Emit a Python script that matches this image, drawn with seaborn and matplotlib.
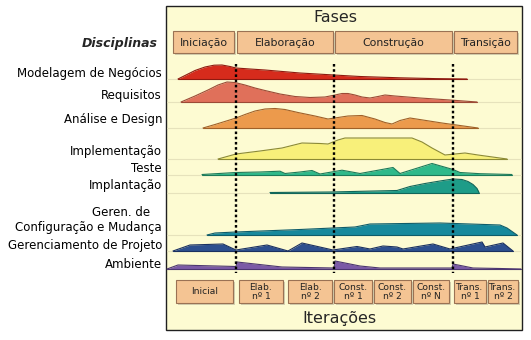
import numpy as np
import pandas as pd
import matplotlib
matplotlib.use("Agg")
import matplotlib.pyplot as plt
from matplotlib.patches import Rectangle
import seaborn as sns

# ---------------- data ----------------
disciplines = ["Modelagem de Negócios", "Requisitos", "Análise e Design",
               "Implementação", "Teste", "Implantação",
               "Configuração e Mudança", "Gerenciamento de Projeto", "Ambiente"]
config_prefix = "Geren. de"

phases = ["Iniciação", "Elaboração", "Construção", "Transição"]
iterations = ["Inicial", "Elab.\nnº 1", "Elab.\nnº 2", "Const.\nnº 1", "Const.\nnº 2",
              "Const.\nnº N", "Trans.\nnº 1", "Trans.\nnº 2"]

# timeline positions (x) and effort heights per discipline
modelagem_x = [178, 186, 195, 205, 214, 222, 230, 236, 250, 265, 300, 334, 360, 400, 435, 467]
modelagem_h = [0, 4, 8.5, 12, 13.8, 14, 12.5, 11, 10, 9, 6, 4, 2.5, 1.2, 0.4, 0]

requisitos_x = [181, 195, 208, 218, 227, 235, 245, 255, 265, 280, 295, 310, 325, 335, 342,
                348, 355, 362, 370, 378, 385, 395, 420, 450, 477]
requisitos_h = [0, 6, 12, 17, 20, 19.5, 17, 14, 11.5, 8, 5.5, 4.5, 5, 7, 8.5,
                8.5, 7, 5, 4, 5.5, 7, 6, 4, 2, 0]

analise_x = [203, 215, 228, 236, 245, 255, 265, 275, 285, 298, 315, 328, 338, 348, 362,
             375, 385, 392, 400, 410, 442, 478]
analise_h = [0, 3.5, 7.5, 10, 13.5, 17, 19, 19.5, 18.5, 15.5, 12, 9, 10.5, 12, 12.5,
             9, 5.5, 4, 7.5, 10, 5, 0]

implementacao_x = [218, 236, 260, 282, 302, 320, 328, 338, 345, 380, 412, 422, 432, 445,
                   455, 465, 478, 507]
implementacao_h = [0, 5, 8, 11, 16, 15.5, 15, 19, 21, 21, 21, 17, 11, 4, 5, 6, 4, 0]

teste_x = [202, 236, 260, 280, 285, 300, 312, 320, 342, 360, 393, 400, 432, 453, 460, 480, 512]
teste_h = [0, 2, 2.5, 3.3, 1, 2.5, 4, 0.5, 4.3, 1, 7, 1, 11, 5, 2, 0.8, 0]

implantacao_x = [270, 330, 397, 410, 425, 440, 453, 462, 468, 473, 477, 479]
implantacao_h = [0, 0.5, 2, 6, 9, 11.5, 13.5, 13, 11, 8, 4, 0]

config_x = [207, 215, 236, 300, 355, 370, 440, 500, 507, 517]
config_h = [0, 2, 3, 5.5, 8, 11, 12, 10, 7, 0]

gerenc_x = [173, 190, 223, 236, 267, 288, 302, 333, 357, 370, 383, 397, 403, 433, 450, 482, 485, 503, 513]
gerenc_h = [0, 6, 7, 1, 6, 0, 8, 1, 4.5, 2, 5, 4, 2, 7, 2, 9, 4, 8, 0]

ambiente_x = [167, 178, 236, 237, 282, 334, 335, 360, 380, 452, 453, 473, 500, 521]
ambiente_h = [0, 4, 2.5, 7, 2, 1, 8, 3, 1, 1, 5, 1, 0.5, 0]

series_x = [modelagem_x, requisitos_x, analise_x, implementacao_x, teste_x,
            implantacao_x, config_x, gerenc_x, ambiente_x]
series_h = [modelagem_h, requisitos_h, analise_h, implementacao_h, teste_h,
            implantacao_h, config_h, gerenc_h, ambiente_h]

# ---------------- layout / style ----------------
W, H = 531, 340
baselines = [79, 102, 128, 159, 174.5, 192.5, 235, 251, 269]
label_y = [73, 95, 120, 152, 168, 185, 227, 246, 264]
fill_colors = ["#d62b1c", "#e0705a", "#ec9a4c", "#f8f07a", "#2fb98a",
               "#1e9c88", "#17899c", "#2d4f8e", "#7b5aa6"]
edge_colors = ["#8e1a10", "#9c4a36", "#a06028", "#8c8a34", "#1c7a5a",
               "#11665a", "#0e5c6a", "#1a3060", "#4c3670"]
panel = (166, 6, 522, 330)
phase_spans = [(173, 234), (237, 333), (335, 452), (454, 517)]
iter_spans = [(176, 233), (239, 283), (288, 332), (334, 372), (374, 411),
              (413, 449), (454, 486), (488, 518)]
dash_x = [236, 334, 453]

sns.set_theme(style="white")
plt.rcParams['font.family'] = ['DejaVu Sans']

fig = plt.figure(figsize=(W / 100, H / 100), dpi=100)
ax = fig.add_axes([0, 0, 1, 1])
ax.set_xlim(0, W)
ax.set_ylim(H, 0)
ax.axis("off")
fig.patch.set_facecolor("white")

# panel
ax.add_patch(Rectangle((panel[0], panel[1]), panel[2] - panel[0], panel[3] - panel[1],
                       facecolor="#fdfbd2", edgecolor="#202020", lw=1.0, zorder=0))

# faint baselines
for b in baselines:
    ax.plot([panel[0] + 1, panel[2] - 1], [b, b], color="#e6e2bc", lw=0.8, zorder=1)

# humps
rows = []
for i, (xs, hs) in enumerate(zip(series_x, series_h)):
    xs = np.array(xs, float)
    top = baselines[i] - np.array(hs, float)
    ax.fill_between(xs, baselines[i], top, color=fill_colors[i], lw=0, zorder=2)
    for x, t in zip(xs, top):
        rows.append({"disc": disciplines[i], "x": x, "y": t})
df = pd.DataFrame(rows)
sns.lineplot(data=df, x="x", y="y", hue="disc", palette=dict(zip(disciplines, edge_colors)),
             sort=False, estimator=None, lw=0.8, legend=False, ax=ax, zorder=3)
for i, xs in enumerate(series_x):
    ax.plot([xs[0], xs[-1]], [baselines[i], baselines[i]], color=edge_colors[i], lw=0.8, zorder=3)
ax.set_xlim(0, W)
ax.set_ylim(H, 0)
ax.set_xlabel("")
ax.set_ylabel("")

# dashed phase lines
for x in dash_x:
    ax.plot([x, x], [64, 273], color="black", lw=1.7, ls=(0, (1.1, 1.1)), zorder=4)

# discipline labels
for name, y in zip(disciplines, label_y):
    ax.text(162, y, name, ha="right", va="center", fontsize=8.5, color="black")
ax.text(150, 212.5, config_prefix, ha="right", va="center", fontsize=8.5, color="black")
ax.text(158, 43, "Disciplinas", ha="right", va="center", fontsize=9,
        fontweight="bold", fontstyle="italic")

def box(x0, x1, y0, y1, text, fs):
    ax.add_patch(Rectangle((x0 + 2, y0 + 2), x1 - x0, y1 - y0, facecolor="#b8b49a",
                           edgecolor="none", alpha=0.6, zorder=5))
    ax.add_patch(Rectangle((x0, y0), x1 - x0, y1 - y0, facecolor="#f4c493",
                           edgecolor="#9a7254", lw=0.8, zorder=6))
    ax.text((x0 + x1) / 2, (y0 + y1) / 2 + 0.5, text, ha="center", va="center",
            fontsize=fs, color="#222222", zorder=7, linespacing=1.0)

for (x0, x1), name in zip(phase_spans, phases):
    box(x0, x1, 31, 53, name, 7.8)
for (x0, x1), name in zip(iter_spans, iterations):
    box(x0, x1, 280, 303, name, 6.6)

ax.text(335, 18, "Fases", ha="center", va="center", fontsize=11.5)
ax.text(339, 319, "Iterações", ha="center", va="center", fontsize=11.5)

fig.savefig("out.png", dpi=100)
